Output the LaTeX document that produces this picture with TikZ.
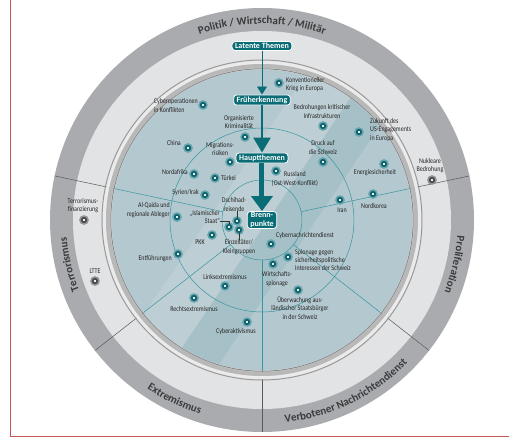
\documentclass[tikz,border=0pt]{standalone}
\usepackage{fontspec}
\setmainfont{Carlito}
\newfontfamily\condfont[FakeStretch=0.82]{Carlito}
\usetikzlibrary{arrows.meta, positioning, decorations.text}
\definecolor{ringdark}{RGB}{170,171,175}
\definecolor{ringlight}{RGB}{226,227,229}
\definecolor{diskblue}{RGB}{180,200,207}
\definecolor{tealbox}{RGB}{10,108,117}
\definecolor{tealline}{RGB}{55,150,160}
\definecolor{tealdot}{RGB}{16,98,108}
\definecolor{tealglow}{RGB}{105,168,176}
\definecolor{greydot}{RGB}{75,75,78}
\definecolor{greyglow}{RGB}{150,150,154}
\definecolor{bandtext}{RGB}{58,58,60}
\definecolor{framered}{RGB}{198,86,86}
\newcommand{\bandfont}{\bfseries\fontsize{11}{11}\selectfont\color{bandtext}}

\begin{document}
\begin{tikzpicture}[x=1pt, y=1pt,
        lbl/.style={font=\condfont\fontsize{7.3}{8.2}\selectfont, text=black!85, inner sep=0pt, align=center},
        dot/.style={circle, inner sep=0pt, minimum size=4.4pt, fill=white, draw=tealdot, line width=1.8pt, preaction={draw=tealglow, line width=5pt}},
        gdot/.style={circle, inner sep=0pt, minimum size=4.4pt, fill=white, draw=greydot, line width=1.8pt, preaction={draw=greyglow, line width=5pt}},
        themebox/.style={rectangle, rounded corners=3pt, fill=tealbox, draw=white, line width=0.8pt, text=white, font=\bfseries\fontsize{8}{8.6}\selectfont, inner xsep=3pt, inner ysep=1.6pt, align=center},
        leader/.style={draw=black!80, line width=0.5pt},
        sector/.style={draw=tealline, line width=0.5pt},
        sectorout/.style={draw=black!65, line width=0.5pt},
        bandlabel/.style={decorate, decoration={text along path, text align=center, text={|\bandfont|#1}}}
    ]
        \useasboundingbox (-262,-219) rectangle (247,220);

        % frame
        \draw[framered, line width=0.8pt] (-251.5,220) -- (-251.5,-216.5) -- (247,-216.5);

        % outer rings
        \fill[ringdark] (0,0) circle (212);
        \fill[ringlight] (0,0) circle (189);
        \foreach \a in {12,168,218,270,322}
            \draw[sectorout] (\a:150) -- (\a:212);

        % metal rim
        \draw[black!40, line width=1pt] (0,0) circle (160);
        \draw[white!92!black, line width=3pt] (0,0) circle (157.5);
        \draw[black!28, line width=4pt] (0,0) circle (154);
        \draw[black!45, line width=1pt] (0,0) circle (151.2);

        % inner disk
        \begin{scope}
            \clip (0,0) circle (150.5);
            \fill[diskblue] (-151,-151) rectangle (151,151);
            \fill[white, opacity=0.12, rotate=56] (-200,-5) rectangle (200,45);
            \fill[tealbox, opacity=0.08, rotate=56] (-200,-45) rectangle (200,-5);
        \end{scope}
        \draw[sector] (0,0) circle (40);
        \draw[sector] (0,0) circle (92);
        \foreach \a in {12,168,218,270,322}
            \draw[sector] (\a:40) -- (\a:150);

        % sector names
        \path[bandlabel={Politik / Wirtschaft / Militär}] (167:196) arc[start angle=167, end angle=13, radius=196];
        \path[bandlabel={Terrorismus}] (218:196) arc[start angle=218, end angle=168, radius=196];
        \path[bandlabel={Proliferation}] (12:196) arc[start angle=12, end angle=-38, radius=196];
        \path[bandlabel={Extremismus}] (218:204) arc[start angle=218, end angle=270, radius=204];
        \path[bandlabel={Verbotener Nachrichtendienst}] (270:204) arc[start angle=270, end angle=322, radius=204];

        % levels
        \node[themebox] (lt) at (0,174) {Latente Themen};
        \node[themebox] (fe) at (0,120) {Früherkennung};
        \node[themebox] (ht) at (0,62) {Hauptthemen};
        \node[themebox, inner ysep=1pt] (bp) at (0,0) {Brenn-\\punkte};
        \draw[tealbox, line width=0.9pt, -{Triangle[width=10pt, length=8pt]}] (lt) -- (fe);
        \draw[tealbox, line width=2.6pt, -{Triangle[width=17pt, length=15pt]}] (fe) -- (ht);
        \draw[tealbox, line width=5pt, -{Triangle[width=21pt, length=15pt]}] (ht) -- (bp);

        % themes
        \node[dot] (d-konv) at (17,137) {};
        \node[lbl, anchor=west, align=left] (l-konv) at (24,135.5) {Konventioneller\\Krieg in Europa};
        \node[dot] (d-cyop) at (-59,115) {};
        \node[lbl, anchor=east, align=left] (l-cyop) at (-64,114.5) {Cyberoperationen\\in Konflikten};
        \node[dot] (d-orgk) at (-17,83) {};
        \node[lbl] (l-orgk) at (-23,98) {Organisierte\\Kriminalität};
        \node[dot] (d-infra) at (61,94) {};
        \node[lbl] (l-infra) at (60,108.5) {Bedrohungen kritischer\\Infrastrukturen};
        \node[dot] (d-usa) at (97,88) {};
        \node[lbl, anchor=west, align=left] (l-usa) at (108,90) {Zukunft des\\US-Engagements\\in Europa};
        \node[dot] (d-druck) at (61,58) {};
        \node[lbl] (l-druck) at (61,72.5) {Druck auf\\die Schweiz};
        \node[dot] (d-energ) at (122,56) {};
        \node[lbl] (l-energ) at (113,47) {Energiesicherheit};
        \node[gdot] (d-nukl) at (170,40) {};
        \node[lbl] (l-nukl) at (168,54.5) {Nukleare\\Bedrohung};
        \node[dot] (d-russ) at (14,49) {};
        \node[lbl] (l-russ) at (33,41) {Russland\\(Ost-West-Konflikt)};
        \node[dot] (d-iran) at (78,20) {};
        \node[lbl] (l-iran) at (80,10) {Iran};
        \node[dot] (d-nkor) at (111,26) {};
        \node[lbl] (l-nkor) at (112,14) {Nordkorea};
        \node[dot] (d-china) at (-74,72) {};
        \node[lbl, anchor=east] (l-china) at (-81,77) {China};
        \node[dot] (d-migr) at (-32,58) {};
        \node[lbl] (l-migr) at (-42,71) {Migrations-\\risiken};
        \node[dot] (d-nafr) at (-68,46) {};
        \node[lbl, anchor=east] (l-nafr) at (-74,48) {Nordafrika};
        \node[dot] (d-tuer) at (-47,42) {};
        \node[lbl, anchor=west] (l-tuer) at (-41,42) {Türkei};
        \node[dot] (d-syr) at (-57,25) {};
        \node[lbl, anchor=east] (l-syr) at (-63,27) {Syrien/Irak};
        \node[dot] (d-alq) at (-85,3) {};
        \node[lbl, anchor=east, align=right] (l-alq) at (-92,10) {Al-Qaida und\\regionale Ableger};
        \node[dot] (d-is) at (-33,-7) {};
        \node[lbl, anchor=east, align=right] (l-is) at (-42,3) {„Islamischer\\Staat“};
        \node[dot] (d-dsch) at (-25,-1) {};
        \node[lbl] (l-dsch) at (-28,15.5) {Dschihad-\\reisende};
        \node[dot] (d-einz) at (-23,-10) {};
        \node[lbl] (l-einz) at (-23,-27) {Einzeltäter/\\Kleingruppen};
        \node[dot] (d-pkk) at (-50,-15) {};
        \node[lbl] (l-pkk) at (-62,-22) {PKK};
        \node[dot] (d-entf) at (-84,-34) {};
        \node[lbl, anchor=east] (l-entf) at (-90,-39) {Entführungen};
        \node[dot] (d-links) at (-37,-66) {};
        \node[lbl] (l-links) at (-37,-57) {Linksextremismus};
        \node[dot] (d-rechts) at (-68,-78) {};
        \node[lbl] (l-rechts) at (-68,-89) {Rechtsextremismus};
        \node[dot] (d-cyak) at (-15,-102) {};
        \node[lbl] (l-cyak) at (-26,-112) {Cyberaktivismus};
        \node[dot] (d-cynd) at (9,-24) {};
        \node[lbl] (l-cynd) at (43,-16) {Cybernachrichtendienst};
        \node[dot] (d-spio) at (26,-37) {};
        \node[lbl, anchor=west, align=left] (l-spio) at (33,-40) {Spionage gegen\\sicherheitspolitische\\Interessen der Schweiz};
        \node[dot] (d-wisp) at (11,-44) {};
        \node[lbl] (l-wisp) at (15,-59) {Wirtschafts-\\spionage};
        \node[dot] (d-ueb) at (36,-70) {};
        \node[lbl] (l-ueb) at (38,-88) {Überwachung aus-\\ländischer Staatsbürger\\in der Schweiz};
        \node[gdot] (d-tfin) at (-178,0) {};
        \node[lbl] (l-tfin) at (-179,14) {Terrorismus-\\finanzierung};
        \node[gdot] (d-ltte) at (-167,-61) {};
        \node[lbl] (l-ltte) at (-167,-51) {LTTE};

        % leaders
        \draw[leader] ([yshift=3pt]l-is.south east) -| (d-is);
        \draw[leader] (l-dsch.south -| d-dsch) -- (d-dsch);
        \draw[leader] (d-einz) -- (d-einz |- l-einz.north);
    \end{tikzpicture}
\end{document}
